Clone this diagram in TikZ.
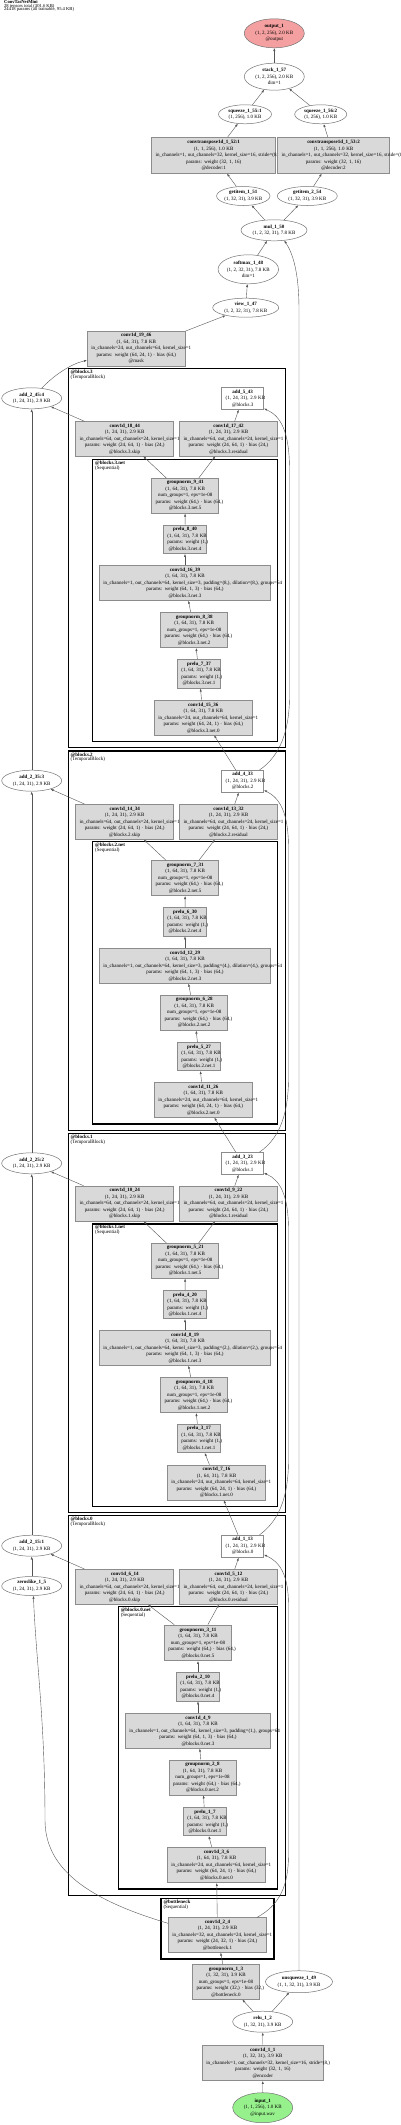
\documentclass[tikz,border=0pt]{standalone}
\usepackage{fontspec}
\setmainfont{Liberation Serif}
\usetikzlibrary{shapes.geometric, arrows.meta, calc}
\definecolor{opfill}{RGB}{217, 217, 217}
\definecolor{opline}{RGB}{140, 140, 140}
\definecolor{tensorline}{RGB}{115, 115, 115}
\definecolor{outfill}{RGB}{245, 160, 160}
\definecolor{infill}{RGB}{150, 240, 140}
\definecolor{edgegray}{RGB}{85, 85, 85}
\tikzset{
  opbox/.style={rectangle, draw=opline, fill=opfill, line width=0.6pt, inner xsep=4pt, inner ysep=0pt, align=center},
  addbox/.style={opbox, fill=white},
  tensor/.style={ellipse, draw=tensorline, fill=white, line width=0.5pt, inner sep=0pt, align=center},
  cluster/.style={draw=black, line width=1.4pt},
  clabel/.style={anchor=north west, align=left, inner sep=0pt, font={\fontsize{5}{4.8}\selectfont\lineskiplimit-4pt\relax}},
  edge/.style={-{Latex[length=3pt, width=2.2pt]}, draw=edgegray, line width=0.4pt},
}

\begin{document}
\begin{tikzpicture}[x=1pt, y=-1pt, font=\fontsize{5}{6.5}\selectfont]
\useasboundingbox (0,0) rectangle (400,2125);

% Header
\node[anchor=north west, align=left, inner sep=0pt, font={\fontsize{4.6}{3.5}\selectfont\lineskiplimit-4pt\relax}] (header) at (4,0.4) {\textbf{ConvTasNetMini}\\28 tensors total (301.6 KB)\\24418 params (all trainable, 95.4 KB)};

% Clusters
\draw[cluster] (68.3,368.3) rectangle (285.7,747.7);
\draw[cluster] (92.7,459.3) rectangle (277.7,741.7);
\draw[cluster] (68.3,751) rectangle (285.7,1130.7);
\draw[cluster] (92.7,841.7) rectangle (277.7,1124);
\draw[cluster] (68.3,1133.3) rectangle (285.7,1512.7);
\draw[cluster] (92.7,1224) rectangle (277.7,1506.7);
\draw[cluster] (68.3,1515.7) rectangle (285.7,1895.7);
\draw[cluster] (118.3,1606.7) rectangle (277.7,1889);
\draw[cluster] (161,1898.3) rectangle (274,1959);
\node[clabel] (lblb3) at (70.5,369.8) {\textbf{@blocks.3}\\(TemporalBlock)};
\node[clabel] (lblb3net) at (95,460.6) {\textbf{@blocks.3.net}\\(Sequential)};
\node[clabel] (lblb2) at (70.5,752.5) {\textbf{@blocks.2}\\(TemporalBlock)};
\node[clabel] (lblb2net) at (95,843) {\textbf{@blocks.2.net}\\(Sequential)};
\node[clabel] (lblb1) at (70.5,1134.8) {\textbf{@blocks.1}\\(TemporalBlock)};
\node[clabel] (lblb1net) at (95,1225.3) {\textbf{@blocks.1.net}\\(Sequential)};
\node[clabel] (lblb0) at (70.5,1517.2) {\textbf{@blocks.0}\\(TemporalBlock)};
\node[clabel] (lblb0net) at (120.6,1608) {\textbf{@blocks.0.net}\\(Sequential)};
\node[clabel] (lblneck) at (163.3,1899.8) {\textbf{@bottleneck}\\(Sequential)};

% Output side
\node[tensor, fill=outfill, minimum width=60pt, minimum height=29pt] (output) at (274.3,33.3) {\textbf{output\_1}\\(1, 2, 256), 2.0 KB\\@output};
\node[tensor, minimum width=60pt, minimum height=27pt] (stack) at (274.3,76.7) {\textbf{stack\_1\_57}\\(1, 2, 256), 2.0 KB\\dim=1};
\node[tensor, minimum width=53pt, minimum height=19pt] (sq1) at (245,114.3) {\textbf{squeeze\_1\_55:1}\\(1, 256), 1.0 KB};
\node[tensor, minimum width=52pt, minimum height=19pt] (sq2) at (320.7,114.3) {\textbf{squeeze\_1\_56:2}\\(1, 256), 1.0 KB};
\node[opbox, text width=116pt, minimum height=36pt] (convT1) at (213.7,155.3) {\textbf{convtranspose1d\_1\_52:1}\\(1, 1, 256), 1.0 KB\\\mbox{in\_channels=1, out\_channels=32, kernel\_size=16, stride=(8,)}\\params: weight (32, 1, 16)\\@decoder:1};
\node[opbox, text width=103.6pt, minimum height=36pt] (convT2) at (333.5,155.3) {\textbf{convtranspose1d\_1\_53:2}\\(1, 1, 256), 1.0 KB\\\mbox{in\_channels=1, out\_channels=32, kernel\_size=16, stride=(8,)}\\params: weight (32, 1, 16)\\@decoder:2};
\node[tensor, minimum width=51pt, minimum height=19pt] (gi1) at (243.3,196) {\textbf{getitem\_1\_51}\\(1, 32, 31), 3.9 KB};
\node[tensor, minimum width=60pt, minimum height=19pt] (gi2) at (307.3,196) {\textbf{getitem\_2\_54}\\(1, 32, 31), 3.9 KB};
\node[tensor, minimum width=66pt, minimum height=21pt] (mul) at (274,230.3) {\textbf{mul\_1\_50}\\(1, 2, 32, 31), 7.8 KB};
\node[tensor, minimum width=57pt, minimum height=29pt] (softmax) at (248.3,269.3) {\textbf{softmax\_1\_48}\\(1, 2, 32, 31), 7.8 KB\\dim=1};
\node[tensor, minimum width=66pt, minimum height=19pt] (view) at (245.7,307.7) {\textbf{view\_1\_47}\\(1, 2, 32, 31), 7.8 KB};
\node[opbox, text width=90pt, minimum height=34.7pt] (conv19) at (136.3,348.7) {\textbf{conv1d\_19\_46}\\(1, 64, 31), 7.8 KB\\\mbox{in\_channels=24, out\_channels=64, kernel\_size=1}\\params: weight (64, 24, 1) · bias (64,)\\@mask};

% Block 3
\node[tensor, minimum width=60pt, minimum height=21pt] (add24) at (31.7,398.3) {\textbf{add\_2\_45:4}\\(1, 24, 31), 2.9 KB};
\node[addbox, text width=34pt, minimum height=22pt] (add5) at (242.7,398.3) {\textbf{add\_5\_43}\\\mbox{(1, 24, 31), 2.9 KB}\\@blocks.3};
\node[opbox, text width=90pt, minimum height=34.3pt] (conv18) at (124.7,438.8) {\textbf{conv1d\_18\_44}\\(1, 24, 31), 2.9 KB\\\mbox{in\_channels=64, out\_channels=24, kernel\_size=1}\\params: weight (24, 64, 1) · bias (24,)\\@blocks.3.skip};
\node[opbox, text width=90pt, minimum height=34.3pt] (conv17) at (228.5,438.8) {\textbf{conv1d\_17\_42}\\(1, 24, 31), 2.9 KB\\\mbox{in\_channels=64, out\_channels=24, kernel\_size=1}\\params: weight (24, 64, 1) · bias (24,)\\@blocks.3.residual};
\node[opbox, text width=59pt, minimum height=35pt] (gn9) at (185.2,495.8) {\textbf{groupnorm\_9\_41}\\(1, 64, 31), 7.8 KB\\\mbox{num\_groups=1, eps=1e-08}\\\mbox{params: weight (64,) · bias (64,)}\\@blocks.3.net.5};
\node[opbox, text width=35.3pt, minimum height=28.7pt] (prelu8) at (185,539.3) {\textbf{prelu\_8\_40}\\\mbox{(1, 64, 31), 7.8 KB}\\\mbox{params: weight (1,)}\\@blocks.3.net.4};
\node[opbox, text width=163.3pt, minimum height=34.7pt] (conv16) at (185,583) {\textbf{conv1d\_16\_39}\\(1, 64, 31), 7.8 KB\\\mbox{in\_channels=1, out\_channels=64, kernel\_size=3, padding=(8,), dilation=(8,), groups=64}\\params: weight (64, 1, 3) · bias (64,)\\@blocks.3.net.3};
\node[opbox, text width=59pt, minimum height=35.4pt] (gn8) at (194.2,630) {\textbf{groupnorm\_8\_38}\\(1, 64, 31), 7.8 KB\\\mbox{num\_groups=1, eps=1e-08}\\\mbox{params: weight (64,) · bias (64,)}\\@blocks.3.net.2};
\node[opbox, text width=35.3pt, minimum height=29pt] (prelu7) at (199,673.8) {\textbf{prelu\_7\_37}\\\mbox{(1, 64, 31), 7.8 KB}\\\mbox{params: weight (1,)}\\@blocks.3.net.1};
\node[opbox, text width=90pt, minimum height=34.3pt] (conv15) at (203.3,717.8) {\textbf{conv1d\_15\_36}\\(1, 64, 31), 7.8 KB\\\mbox{in\_channels=24, out\_channels=64, kernel\_size=1}\\params: weight (64, 24, 1) · bias (64,)\\@blocks.3.net.0};

% Block 2
\node[tensor, minimum width=60pt, minimum height=21pt] (add23) at (31.7,780.7) {\textbf{add\_2\_35:3}\\(1, 24, 31), 2.9 KB};
\node[addbox, text width=34pt, minimum height=22pt] (add4) at (242.7,781.2) {\textbf{add\_4\_33}\\\mbox{(1, 24, 31), 2.9 KB}\\@blocks.2};
\node[opbox, text width=90pt, minimum height=35pt] (conv14) at (124.7,821.8) {\textbf{conv1d\_14\_34}\\(1, 24, 31), 2.9 KB\\\mbox{in\_channels=64, out\_channels=24, kernel\_size=1}\\params: weight (24, 64, 1) · bias (24,)\\@blocks.2.skip};
\node[opbox, text width=90pt, minimum height=35pt] (conv13) at (228.5,821.8) {\textbf{conv1d\_13\_32}\\(1, 24, 31), 2.9 KB\\\mbox{in\_channels=64, out\_channels=24, kernel\_size=1}\\params: weight (24, 64, 1) · bias (24,)\\@blocks.2.residual};
\node[opbox, text width=59pt, minimum height=35pt] (gn7) at (185.2,878.2) {\textbf{groupnorm\_7\_31}\\(1, 64, 31), 7.8 KB\\\mbox{num\_groups=1, eps=1e-08}\\\mbox{params: weight (64,) · bias (64,)}\\@blocks.2.net.5};
\node[opbox, text width=35.3pt, minimum height=28.7pt] (prelu6) at (185,921.7) {\textbf{prelu\_6\_30}\\\mbox{(1, 64, 31), 7.8 KB}\\\mbox{params: weight (1,)}\\@blocks.2.net.4};
\node[opbox, text width=163.3pt, minimum height=35pt] (conv12) at (185,965.8) {\textbf{conv1d\_12\_29}\\(1, 64, 31), 7.8 KB\\\mbox{in\_channels=1, out\_channels=64, kernel\_size=3, padding=(4,), dilation=(4,), groups=64}\\params: weight (64, 1, 3) · bias (64,)\\@blocks.2.net.3};
\node[opbox, text width=59pt, minimum height=35.3pt] (gn6) at (194.2,1012.7) {\textbf{groupnorm\_6\_28}\\(1, 64, 31), 7.8 KB\\\mbox{num\_groups=1, eps=1e-08}\\\mbox{params: weight (64,) · bias (64,)}\\@blocks.2.net.2};
\node[opbox, text width=35.3pt, minimum height=28.4pt] (prelu5) at (199,1056.5) {\textbf{prelu\_5\_27}\\\mbox{(1, 64, 31), 7.8 KB}\\\mbox{params: weight (1,)}\\@blocks.2.net.1};
\node[opbox, text width=90pt, minimum height=35pt] (conv11) at (203.3,1099.8) {\textbf{conv1d\_11\_26}\\(1, 64, 31), 7.8 KB\\\mbox{in\_channels=24, out\_channels=64, kernel\_size=1}\\params: weight (64, 24, 1) · bias (64,)\\@blocks.2.net.0};

% Block 1
\node[tensor, minimum width=60pt, minimum height=21pt] (add22) at (31.7,1163.3) {\textbf{add\_2\_25:2}\\(1, 24, 31), 2.9 KB};
\node[addbox, text width=34pt, minimum height=22pt] (add3) at (242.7,1163.3) {\textbf{add\_3\_23}\\\mbox{(1, 24, 31), 2.9 KB}\\@blocks.1};
\node[opbox, text width=90pt, minimum height=35pt] (conv10) at (124.7,1203.5) {\textbf{conv1d\_10\_24}\\(1, 24, 31), 2.9 KB\\\mbox{in\_channels=64, out\_channels=24, kernel\_size=1}\\params: weight (24, 64, 1) · bias (24,)\\@blocks.1.skip};
\node[opbox, text width=90pt, minimum height=35pt] (conv9) at (228.5,1203.5) {\textbf{conv1d\_9\_22}\\(1, 24, 31), 2.9 KB\\\mbox{in\_channels=64, out\_channels=24, kernel\_size=1}\\params: weight (24, 64, 1) · bias (24,)\\@blocks.1.residual};
\node[opbox, text width=59pt, minimum height=35pt] (gn5) at (185.2,1260.8) {\textbf{groupnorm\_5\_21}\\(1, 64, 31), 7.8 KB\\\mbox{num\_groups=1, eps=1e-08}\\\mbox{params: weight (64,) · bias (64,)}\\@blocks.1.net.5};
\node[opbox, text width=35.3pt, minimum height=28.4pt] (prelu4) at (185,1304.5) {\textbf{prelu\_4\_20}\\\mbox{(1, 64, 31), 7.8 KB}\\\mbox{params: weight (1,)}\\@blocks.1.net.4};
\node[opbox, text width=163.3pt, minimum height=35pt] (conv8) at (185,1347.8) {\textbf{conv1d\_8\_19}\\(1, 64, 31), 7.8 KB\\\mbox{in\_channels=1, out\_channels=64, kernel\_size=3, padding=(2,), dilation=(2,), groups=64}\\params: weight (64, 1, 3) · bias (64,)\\@blocks.1.net.3};
\node[opbox, text width=59pt, minimum height=35.4pt] (gn4) at (194.2,1395) {\textbf{groupnorm\_4\_18}\\(1, 64, 31), 7.8 KB\\\mbox{num\_groups=1, eps=1e-08}\\\mbox{params: weight (64,) · bias (64,)}\\@blocks.1.net.2};
\node[opbox, text width=35.3pt, minimum height=28.7pt] (prelu3) at (199,1438.3) {\textbf{prelu\_3\_17}\\\mbox{(1, 64, 31), 7.8 KB}\\\mbox{params: weight (1,)}\\@blocks.1.net.1};
\node[opbox, text width=90.3pt, minimum height=35pt] (conv7) at (216.5,1482.5) {\textbf{conv1d\_7\_16}\\(1, 64, 31), 7.8 KB\\\mbox{in\_channels=24, out\_channels=64, kernel\_size=1}\\params: weight (64, 24, 1) · bias (64,)\\@blocks.1.net.0};

% Block 0
\node[tensor, minimum width=60pt, minimum height=21pt] (add21) at (31.7,1545.7) {\textbf{add\_2\_15:1}\\(1, 24, 31), 2.9 KB};
\node[addbox, text width=34pt, minimum height=22.3pt] (add1) at (242.7,1546.2) {\textbf{add\_1\_13}\\\mbox{(1, 24, 31), 2.9 KB}\\@blocks.0};
\node[tensor, minimum width=60pt, minimum height=19pt] (zeros) at (31.7,1586) {\textbf{zeroslike\_1\_5}\\(1, 24, 31), 2.9 KB};
\node[opbox, text width=90pt, minimum height=35pt] (conv6) at (124.7,1586.8) {\textbf{conv1d\_6\_14}\\(1, 24, 31), 2.9 KB\\\mbox{in\_channels=64, out\_channels=24, kernel\_size=1}\\params: weight (24, 64, 1) · bias (24,)\\@blocks.0.skip};
\node[opbox, text width=90pt, minimum height=35pt] (conv5) at (228.5,1586.8) {\textbf{conv1d\_5\_12}\\(1, 24, 31), 2.9 KB\\\mbox{in\_channels=64, out\_channels=24, kernel\_size=1}\\params: weight (24, 64, 1) · bias (24,)\\@blocks.0.residual};
\node[opbox, text width=59.3pt, minimum height=35.7pt] (gn3) at (198,1642.8) {\textbf{groupnorm\_3\_11}\\(1, 64, 31), 7.8 KB\\\mbox{num\_groups=1, eps=1e-08}\\\mbox{params: weight (64,) · bias (64,)}\\@blocks.0.net.5};
\node[opbox, text width=35.3pt, minimum height=28.7pt] (prelu2) at (198,1686.7) {\textbf{prelu\_2\_10}\\\mbox{(1, 64, 31), 7.8 KB}\\\mbox{params: weight (1,)}\\@blocks.0.net.4};
\node[opbox, text width=137.3pt, minimum height=35pt] (conv4) at (198,1730.8) {\textbf{conv1d\_4\_9}\\(1, 64, 31), 7.8 KB\\\mbox{in\_channels=1, out\_channels=64, kernel\_size=3, padding=(1,), groups=64}\\params: weight (64, 1, 3) · bias (64,)\\@blocks.0.net.3};
\node[opbox, text width=59pt, minimum height=35pt] (gn2) at (202.5,1777.5) {\textbf{groupnorm\_2\_8}\\(1, 64, 31), 7.8 KB\\\mbox{num\_groups=1, eps=1e-08}\\\mbox{params: weight (64,) · bias (64,)}\\@blocks.0.net.2};
\node[opbox, text width=35.3pt, minimum height=28.4pt] (prelu1) at (205,1821.5) {\textbf{prelu\_1\_7}\\\mbox{(1, 64, 31), 7.8 KB}\\\mbox{params: weight (1,)}\\@blocks.0.net.1};
\node[opbox, text width=90.3pt, minimum height=35.3pt] (conv3) at (216.5,1865) {\textbf{conv1d\_3\_6}\\(1, 64, 31), 7.8 KB\\\mbox{in\_channels=24, out\_channels=64, kernel\_size=1}\\params: weight (64, 24, 1) · bias (64,)\\@blocks.0.net.0};

% Bottleneck and encoder
\node[opbox, text width=90.3pt, minimum height=34.6pt] (conv2) at (217.5,1935) {\textbf{conv1d\_2\_4}\\(1, 24, 31), 2.9 KB\\\mbox{in\_channels=32, out\_channels=24, kernel\_size=1}\\params: weight (24, 32, 1) · bias (24,)\\@bottleneck.1};
\node[opbox, text width=58.7pt, minimum height=35pt] (gn1) at (226,1981.8) {\textbf{groupnorm\_1\_3}\\(1, 32, 31), 3.9 KB\\\mbox{num\_groups=1, eps=1e-08}\\\mbox{params: weight (32,) · bias (32,)}\\@bottleneck.0};
\node[tensor, minimum width=67pt, minimum height=22pt] (unsq) at (299,1981.7) {\textbf{unsqueeze\_1\_49}\\(1, 1, 32, 31), 3.9 KB};
\node[tensor, minimum width=60pt, minimum height=21pt] (relu) at (262.7,2021.7) {\textbf{relu\_1\_2}\\(1, 32, 31), 3.9 KB};
\node[opbox, text width=113pt, minimum height=35.7pt] (conv1) at (262.8,2062.8) {\textbf{conv1d\_1\_1}\\(1, 32, 31), 3.9 KB\\\mbox{in\_channels=1, out\_channels=32, kernel\_size=16, stride=(8,)}\\params: weight (32, 1, 16)\\@encoder};
\node[tensor, fill=infill, minimum width=60pt, minimum height=30pt] (input) at (262.7,2107.7) {\textbf{input\_1}\\(1, 1, 256), 1.0 KB\\@input.wav};

% Encoder and bottleneck edges
\draw[edge] (input) -- (conv1);
\draw[edge] (conv1) -- (relu);
\draw[edge] (relu) -- (gn1);
\draw[edge] (relu) -- (unsq);
\draw[edge] (gn1) -- (conv2);
\draw[edge] (conv2) -- (conv3);
\draw[edge] ($(conv2.west)+(0,-11.7)$) .. controls (90,1900) and (45,1870) .. (45,1820) .. controls (45,1720) and (36,1660) .. (zeros.-80);
\draw[edge] ($(conv2.north east)+(-10,0)$) .. controls (280,1905) and (288.5,1885) .. (288.5,1855) -- (288.5,1605) .. controls (288.5,1575) and (280,1562) .. ($(add1.south east)+(0,-3)$);

% Block 0 edges
\draw[edge] (conv3) -- (prelu1);
\draw[edge] (prelu1) -- (gn2);
\draw[edge] (gn2) -- (conv4);
\draw[edge] (conv4) -- (prelu2);
\draw[edge] (prelu2) -- (gn3);
\draw[edge] (gn3) -- (conv6);
\draw[edge] (gn3) -- (conv5);
\draw[edge] (conv5) -- (add1);
\draw[edge] (conv6) -- (add21);
\draw[edge] (zeros) -- (add21);

% Block 1 edges
\draw[edge] (add1) -- (conv7);
\draw[edge] (conv7) -- (prelu3);
\draw[edge] (prelu3) -- (gn4);
\draw[edge] (gn4) -- (conv8);
\draw[edge] (conv8) -- (prelu4);
\draw[edge] (prelu4) -- (gn5);
\draw[edge] (gn5) -- (conv10);
\draw[edge] (gn5) -- (conv9);
\draw[edge] (conv9) -- (add3);
\draw[edge] (conv10) -- (add22);
\draw[edge] (add21) -- (add22);
\draw[edge] ($(add1.north east)+(-4.4,0)$) .. controls (280,1520) and (288.5,1495) .. (288.5,1460) -- (288.5,1230) .. controls (288.5,1195) and (280,1180) .. ($(add3.south east)+(0,-1.6)$);

% Block 2 edges
\draw[edge] (add3) -- (conv11);
\draw[edge] (conv11) -- (prelu5);
\draw[edge] (prelu5) -- (gn6);
\draw[edge] (gn6) -- (conv12);
\draw[edge] (conv12) -- (prelu6);
\draw[edge] (prelu6) -- (gn7);
\draw[edge] (gn7) -- (conv14);
\draw[edge] (gn7) -- (conv13);
\draw[edge] (conv13) -- (add4);
\draw[edge] (conv14) -- (add23);
\draw[edge] (add22) -- (add23);
\draw[edge] ($(add3.north east)+(-4.4,0)$) .. controls (280,1138) and (288.5,1113) .. (288.5,1078) -- (288.5,848) .. controls (288.5,813) and (280,798) .. ($(add4.south east)+(0,-2.3)$);

% Block 3 edges
\draw[edge] (add4) -- (conv15);
\draw[edge] (conv15) -- (prelu7);
\draw[edge] (prelu7) -- (gn8);
\draw[edge] (gn8) -- (conv16);
\draw[edge] (conv16) -- (prelu8);
\draw[edge] (prelu8) -- (gn9);
\draw[edge] (gn9) -- (conv18);
\draw[edge] (gn9) -- (conv17);
\draw[edge] (conv17) -- (add5);
\draw[edge] (conv18) -- (add24);
\draw[edge] (add23) -- (add24);
\draw[edge] ($(add4.north east)+(-4.4,0)$) .. controls (280,756) and (289.5,731) .. (289.5,696) -- (289.5,470) .. controls (289.5,432) and (281,416) .. ($(add5.south east)+(0,-1)$);

% Mask and decoder edges
\draw[edge] (add24.45) .. controls (52,377) and (70,364) .. ($(conv19.south west)+(0,-6)$);
\draw[edge] (conv19.north east) -- (view);
\draw[edge] (view) -- (softmax);
\draw[edge] (softmax) -- (mul);
\draw[edge] (unsq.north) -- (299,310) .. controls (299,270) and (292,252) .. (mul.-45);
\draw[edge] (mul) -- (gi1);
\draw[edge] (mul) -- (gi2);
\draw[edge] (gi1) -- (convT1);
\draw[edge] (gi2) -- (convT2);
\draw[edge] (convT1) -- (sq1);
\draw[edge] (convT2) -- (sq2);
\draw[edge] (sq1) -- (stack);
\draw[edge] (sq2) -- (stack);
\draw[edge] (stack) -- (output);
\end{tikzpicture}
\end{document}
